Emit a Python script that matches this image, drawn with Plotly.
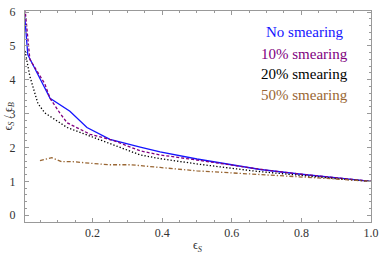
import plotly.graph_objects as go

# No smearing (blue, solid)
x_none = [0.005, 0.014, 0.078, 0.135, 0.184, 0.25, 0.337, 0.394, 0.5, 0.6, 0.682, 0.8, 0.9, 1.0]
y_none = [5.9, 4.74, 3.45, 3.07, 2.59, 2.24, 2.01, 1.87, 1.66, 1.49, 1.35, 1.21, 1.1, 1.0]

# 10% smearing (purple, dashed)
x_10 = [0.006, 0.02, 0.063, 0.078, 0.106, 0.127, 0.193, 0.259, 0.337, 0.394, 0.5, 0.6, 0.7, 0.8, 0.9, 1.0]
y_10 = [6.1, 4.6, 3.88, 3.45, 3.02, 2.73, 2.39, 2.21, 1.90, 1.78, 1.63, 1.48, 1.33, 1.21, 1.1, 1.0]

# 20% smearing (black, dotted)
x_20 = [0.006, 0.02, 0.043, 0.063, 0.127, 0.259, 0.337, 0.394, 0.51, 0.668, 0.8, 0.9, 1.0]
y_20 = [4.85, 4.1, 3.3, 3.02, 2.59, 2.07, 1.78, 1.67, 1.5, 1.3, 1.17, 1.08, 1.0]

# 50% smearing (brown, dash-dot)
x_50 = [0.049, 0.083, 0.112, 0.144, 0.2, 0.25, 0.31, 0.337, 0.394, 0.5, 0.668, 0.797, 0.9, 1.0]
y_50 = [1.61, 1.70, 1.58, 1.58, 1.53, 1.49, 1.49, 1.47, 1.41, 1.31, 1.21, 1.15, 1.07, 1.0]

labels = ["No smearing", "10% smearing", "20% smearing", "50% smearing"]
label_y = [5.40, 4.77, 4.17, 3.54]

colors = ["rgb(20,20,255)", "rgb(128,0,128)", "rgb(0,0,0)", "rgb(153,102,51)"]
dashes = ["solid", "3px,2px", "1.3px,2px", "4px,2px,1.3px,2px"]
series = [(x_none, y_none), (x_10, y_10), (x_20, y_20), (x_50, y_50)]

SERIF = "Liberation Serif, DejaVu Serif, serif"

fig = go.Figure()
for (xs, ys), c, d, n in zip(series, colors, dashes, labels):
    fig.add_trace(go.Scatter(x=xs, y=ys, mode="lines", name=n,
                             line=dict(color=c, width=1.3, dash=d)))

for t, yy, c in zip(labels, label_y, colors):
    fig.add_annotation(x=0.81, y=yy, xref="x", yref="y", text=t, showarrow=False,
                       font=dict(family=SERIF, size=15, color=c),
                       xanchor="center", yanchor="middle")

fig.add_annotation(x=0.5, y=0, xref="paper", yref="paper", yshift=-24,
                   text="ϵ<sub><i>S</i></sub>", showarrow=False,
                   font=dict(family=SERIF, size=12, color="#333"),
                   xanchor="center", yanchor="middle")
fig.add_annotation(x=0, y=0.5, xref="paper", yref="paper", xshift=-17,
                   text="ϵ<sub><i>S</i></sub> / ϵ<sub><i>B</i></sub>", showarrow=False,
                   textangle=-90,
                   font=dict(family=SERIF, size=12, color="#333"),
                   xanchor="center", yanchor="middle")

axis_common = dict(showline=True, linecolor="#999", linewidth=1, mirror="ticks",
                   ticks="inside", ticklen=4, tickcolor="#999", showgrid=False, zeroline=False,
                   tickfont=dict(family=SERIF, size=12, color="#333"))

fig.update_xaxes(range=[0.006, 1.0], tickvals=[0.2, 0.4, 0.6, 0.8, 1.0],
                 ticktext=["0.2", "0.4", "0.6", "0.8", "1.0"],
                 minor=dict(dtick=0.05, tick0=0, ticks="inside", ticklen=2, tickcolor="#999"),
                 **axis_common)
fig.update_yaxes(range=[-0.2, 6.03], tickvals=[0, 1, 2, 3, 4, 5, 6],
                 minor=dict(dtick=0.2, tick0=0, ticks="inside", ticklen=2, tickcolor="#999"),
                 ticklabelstandoff=6,
                 **axis_common)

fig.update_layout(width=384, height=254, margin=dict(l=25, r=11, t=5, b=32),
                  paper_bgcolor="white", plot_bgcolor="white", showlegend=False,
                  font=dict(family=SERIF))

fig.write_html("out.html", config={"displayModeBar": False},
               post_script="document.body.style.margin='0';document.body.style.padding='0';")
